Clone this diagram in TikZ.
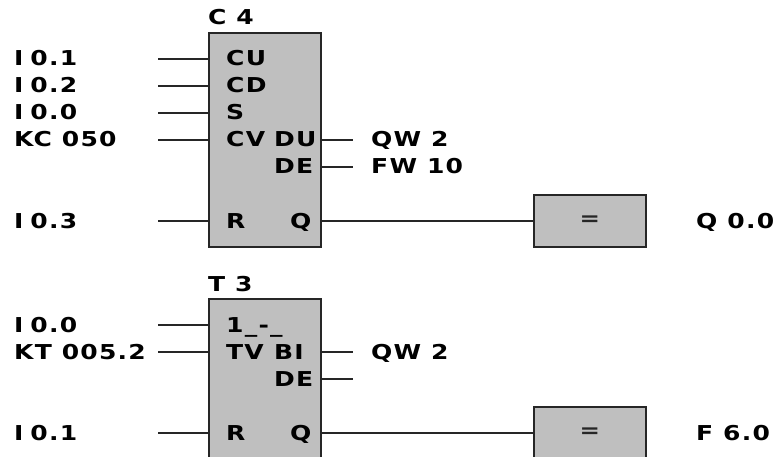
\documentclass[tikz,border=0pt]{standalone}
\usepackage{fontspec}
\setmainfont{DejaVu Sans}[BoldFont={DejaVu Sans Bold},BoldFeatures={FakeStretch=1.22,LetterSpace=6}]
\definecolor{blockgray}{HTML}{BFBFBF}
\definecolor{inkgray}{HTML}{262626}
\def\ii{I\kern-3pt}
% #1 name, #2 x, #3 row y, #4 text
\def\lab#1#2#3#4{\node[lab] (#1) at (#2, #3+7) {#4};}
\def\pin#1#2#3#4{\coordinate (#1) at (158, #3); \draw[wire] (#1) -- (#1 -| #2.west); \node[lab] (#1lab) at (14, #3+7) {#4};}
\def\out#1#2#3{\coordinate (#1) at (353, #3); \draw[wire] (#2.east |- #1) -- (#1);}
\begin{document}
\begin{tikzpicture}[x=1pt, y=-1pt,
    block/.style={draw=inkgray, fill=blockgray, line width=1.8pt, inner sep=0pt, rectangle, anchor=north west, font=\fontsize{20}{20}\selectfont\bfseries, text=inkgray},
    wire/.style={draw=inkgray, line width=1.5pt},
    lab/.style={anchor=base west, inner sep=0pt, font=\fontsize{20.5}{20.5}\selectfont\bfseries, text=black},
    ]
    \clip (0,0) rectangle (773,457);
    % counter
    \node[block, minimum width=112pt, minimum height=214pt] (c4) at (208, 32) {};
    \node[block, minimum width=112pt, minimum height=52pt] (eq1) at (533, 194) {\raisebox{-2pt}{=}};
    \lab{c4name}{208}{18}{C 4}
    \pin{cu}{c4}{59}{\ii{} 0.1}
    \pin{cd}{c4}{86}{\ii{} 0.2}
    \pin{cs}{c4}{113}{\ii{} 0.0}
    \pin{cv}{c4}{140}{KC 050}
    \pin{cr}{c4}{221}{\ii{} 0.3}
    \lab{cuin}{226}{59}{CU}
    \lab{cdin}{226}{86}{CD}
    \lab{csin}{226}{113}{S}
    \lab{cvin}{226}{140}{CV}
    \lab{crin}{226}{221}{R}
    \lab{cdu}{274}{140}{DU}
    \lab{cde}{274}{167}{DE}
    \lab{cq}{290}{221}{Q}
    \out{duout}{c4}{140}
    \out{deout}{c4}{167}
    \lab{duval}{371}{140}{QW 2}
    \lab{deval}{371}{167}{FW 10}
    \draw[wire] (c4.east |- eq1.west) -- (eq1.west);
    \lab{c4res}{696}{221}{Q 0.0}
    % timer
    \node[block, minimum width=112pt, minimum height=214pt] (t3) at (208, 298) {};
    \node[block, minimum width=112pt, minimum height=52pt] (eq2) at (533, 406) {\raisebox{-2pt}{=}};
    \lab{t3name}{208}{284}{T 3}
    \pin{ts}{t3}{325}{\ii{} 0.0}
    \pin{tv}{t3}{352}{KT 005.2}
    \pin{tr}{t3}{433}{\ii{} 0.1}
    \lab{tsin}{226}{325}{1\_-\_}
    \lab{tvin}{226}{352}{TV}
    \lab{trin}{226}{433}{R}
    \lab{tbi}{274}{352}{BI}
    \lab{tde}{274}{379}{DE}
    \lab{tq}{290}{433}{Q}
    \out{biout}{t3}{352}
    \out{tdeout}{t3}{379}
    \lab{bival}{371}{352}{QW 2}
    \draw[wire] (t3.east |- eq2.west) -- (eq2.west);
    \lab{t3res}{696}{433}{F 6.0}
\end{tikzpicture}
\end{document}
